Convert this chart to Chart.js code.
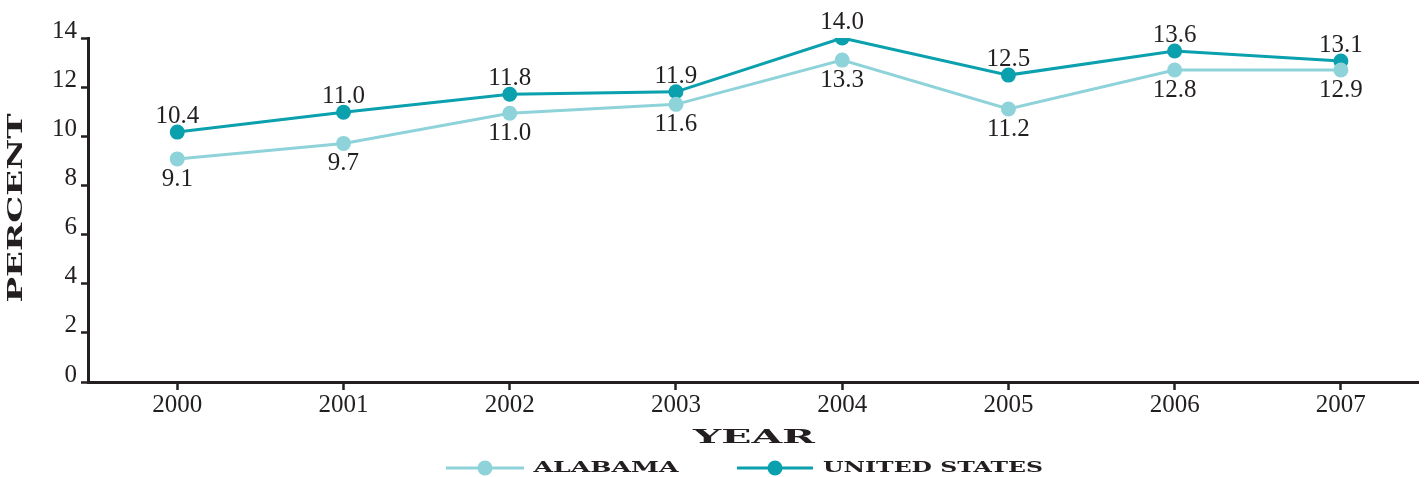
<!DOCTYPE html>
<html>
<head>
<meta charset="utf-8">
<script src="https://cdn.jsdelivr.net/npm/chart.js@4"></script>
<style>
  html, body { margin: 0; padding: 0; background: #fff; }
  #wrap { width: 1426px; height: 477px; position: relative; }
</style>
</head>
<body>
<div id="wrap"><canvas id="c"></canvas></div>
<script>
// ---- data ----
const years = ['2000', '2001', '2002', '2003', '2004', '2005', '2006', '2007'];
const alabamaValues = [9.08, 9.71, 10.94, 11.30, 13.10, 11.11, 12.70, 12.70];
const usValues = [10.17, 10.98, 11.71, 11.81, 14.00, 12.49, 13.47, 13.06];
const alabamaLabels = ['9.1', '9.7', '11.0', '11.6', '13.3', '11.2', '12.8', '12.9'];
const usLabels = ['10.4', '11.0', '11.8', '11.9', '14.0', '12.5', '13.6', '13.1'];
const yTicks = [0, 2, 4, 6, 8, 10, 12, 14];
const seriesNames = ['ALABAMA', 'UNITED STATES'];
const xTitle = 'YEAR';
const yTitle = 'PERCENT';

const INK = '#231f20';
const AL_COLOR = '#8fd3da';
const US_COLOR = '#0aa0ae';
const NUM_FONT = '"Liberation Serif", "Times New Roman", serif';
const DISPLAY_FONT = '"DejaVu Serif", serif';

function toPoints(vals) { return vals.map((v, i) => ({ x: i, y: v })); }

// draws a horizontally stretched bold display text fit to a target width
function wideText(ctx, text, cx, cy, size, targetW, rotate) {
  ctx.save();
  ctx.font = 'bold ' + size + 'px ' + DISPLAY_FONT;
  const w = ctx.measureText(text).width;
  const sx = targetW / w;
  ctx.translate(cx, cy);
  if (rotate) ctx.rotate(-Math.PI / 2);
  ctx.scale(sx, 1);
  ctx.textAlign = 'center';
  ctx.textBaseline = 'middle';
  ctx.fillStyle = INK;
  ctx.fillText(text, 0, 0);
  ctx.restore();
}

const decorPlugin = {
  id: 'decor',
  afterDatasetsDraw(chart) {
    const ctx = chart.ctx;
    const labelSets = [alabamaLabels, usLabels];
    const offsets = [27, -9];
    ctx.save();
    ctx.font = '25px ' + NUM_FONT;
    ctx.fillStyle = INK;
    ctx.textAlign = 'center';
    ctx.textBaseline = 'alphabetic';
    chart.data.datasets.forEach((ds, di) => {
      const meta = chart.getDatasetMeta(di);
      meta.data.forEach((pt, i) => {
        ctx.fillText(labelSets[di][i], pt.x, pt.y + offsets[di]);
      });
    });
    ctx.restore();
  },
  afterDraw(chart) {
    const ctx = chart.ctx;
    wideText(ctx, xTitle, 754, 438, 19, 122, false);
    wideText(ctx, yTitle, 17, 208, 20, 189, true);
    const items = [
      { name: seriesNames[0], color: AL_COLOR, x0: 446, x1: 524, tx: 606, tw: 145 },
      { name: seriesNames[1], color: US_COLOR, x0: 737, x1: 813, tx: 933, tw: 220 }
    ];
    const ly = 468;
    items.forEach(it => {
      ctx.save();
      ctx.strokeStyle = it.color;
      ctx.lineWidth = 3;
      ctx.beginPath();
      ctx.moveTo(it.x0, ly);
      ctx.lineTo(it.x1, ly);
      ctx.stroke();
      ctx.fillStyle = it.color;
      ctx.beginPath();
      ctx.arc((it.x0 + it.x1) / 2, ly, 7.5, 0, Math.PI * 2);
      ctx.fill();
      ctx.restore();
      wideText(ctx, it.name, it.tx, ly, 15, it.tw, false);
    });
  }
};

new Chart(document.getElementById('c'), {
  type: 'line',
  data: {
    datasets: [
      {
        label: seriesNames[0],
        data: toPoints(alabamaValues),
        borderColor: AL_COLOR,
        backgroundColor: AL_COLOR,
        pointBackgroundColor: AL_COLOR,
        pointBorderWidth: 0,
        pointRadius: 7.5,
        borderWidth: 3,
        tension: 0
      },
      {
        label: seriesNames[1],
        data: toPoints(usValues),
        borderColor: US_COLOR,
        backgroundColor: US_COLOR,
        pointBackgroundColor: US_COLOR,
        pointBorderWidth: 0,
        pointRadius: 7.5,
        borderWidth: 3,
        tension: 0
      }
    ]
  },
  options: {
    responsive: true,
    maintainAspectRatio: false,
    animation: false,
    devicePixelRatio: 1,
    layout: { padding: { top: 38, right: 6, left: 0, bottom: 0 } },
    plugins: {
      legend: { display: false },
      tooltip: { enabled: false }
    },
    scales: {
      x: {
        type: 'linear',
        min: -0.537,
        max: 7.467,
        afterBuildTicks(scale) { scale.ticks = years.map((_, i) => ({ value: i })); },
        afterFit(scale) { scale.height = 95; },
        ticks: {
          callback: (v) => years[v],
          font: { family: NUM_FONT, size: 25 },
          color: INK,
          padding: 0,
          maxRotation: 0,
          autoSkip: false
        },
        grid: {
          drawOnChartArea: false,
          drawTicks: true,
          tickLength: 8,
          tickWidth: 2.5,
          tickColor: INK
        },
        border: { display: true, color: INK, width: 3 }
      },
      y: {
        min: 0,
        max: 14,
        afterBuildTicks(scale) { scale.ticks = yTicks.map(v => ({ value: v })); },
        afterFit(scale) { scale.width = 88; },
        ticks: {
          font: { family: NUM_FONT, size: 25 },
          color: INK,
          padding: 4,
          labelOffset: -7
        },
        grid: {
          drawOnChartArea: false,
          drawTicks: true,
          tickLength: 7,
          tickWidth: 2.5,
          tickColor: INK
        },
        border: { display: true, color: INK, width: 3 }
      }
    }
  },
  plugins: [decorPlugin]
});
</script>
</body>
</html>
